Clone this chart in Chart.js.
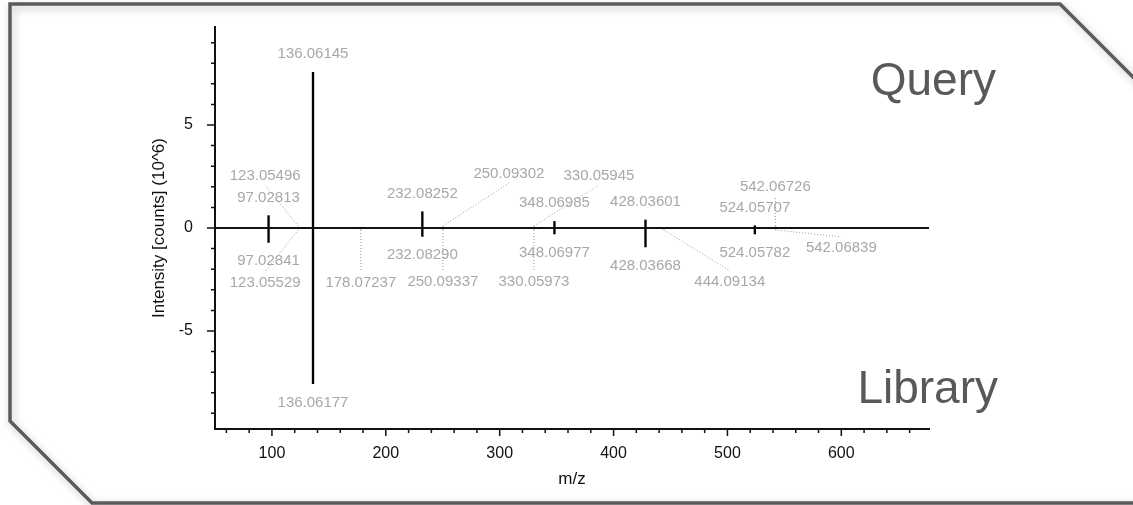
<!DOCTYPE html>
<html>
<head>
<meta charset="utf-8">
<style>
  html, body { margin: 0; padding: 0; background: #fff; }
  #wrap { position: relative; width: 1133px; height: 505px; }
</style>
<script src="https://cdn.jsdelivr.net/npm/chart.js@4/dist/chart.umd.min.js"></script>
</head>
<body>
<div id="wrap"><canvas id="spectrum"></canvas></div>
<script>
// peaks, intensity in counts x 10^6 (library mirrored below zero)
const queryMz = [97.02813, 123.05496, 136.06145, 232.08252, 250.09302, 330.05945, 348.06985, 428.03601, 524.05707, 542.06726];
const queryIntensity = [0.60, 0.03, 7.56, 0.79, 0.04, 0.04, 0.32, 0.39, 0.11, 0.04];

const libraryMz = [97.02841, 123.05529, 136.06177, 178.07237, 232.08290, 250.09337, 330.05973, 348.06977, 428.03668, 444.09134, 524.05782, 542.06839];
const libraryIntensity = [-0.70, -0.03, -7.56, -0.04, -0.41, -0.04, -0.04, -0.29, -0.92, -0.04, -0.29, -0.04];

const xTicks = [100, 200, 300, 400, 500, 600];
const yTicks = [-5, 0, 5];

// labels pushed away from their peak (pixels), drawn with a dotted leader
const labelShift = {
  '123.05496': [-33, -33],
  '250.09302': [66, -35],
  '330.05945': [65, -33],
  '542.06726': [0, -22],
  '123.05529': [-33, 35],
  '178.07237': [0, 35],
  '250.09337': [0, 34],
  '330.05973': [0, 34],
  '444.09134': [66, 34],
  '542.06839': [66, 0]
};

Chart.defaults.font.family = "'Liberation Sans', Arial, sans-serif";

const frame = {
  id: 'frame',
  beforeDraw(chart) {
    const ctx = chart.ctx;
    ctx.save();
    ctx.beginPath();
    ctx.moveTo(1150, 94);
    ctx.lineTo(1060, 4);
    ctx.lineTo(10, 4);
    ctx.lineTo(10, 421);
    ctx.lineTo(92, 503);
    ctx.lineTo(1150, 503);
    ctx.lineWidth = 3.5;
    ctx.strokeStyle = '#5b5b5b';
    ctx.shadowColor = 'rgba(0,0,0,0.25)';
    ctx.shadowBlur = 8;
    ctx.shadowOffsetX = 2;
    ctx.shadowOffsetY = 3;
    ctx.stroke();
    ctx.restore();
  }
};

const axisTicks = {
  id: 'axisTicks',
  afterDraw(chart) {
    const {ctx, chartArea: a, scales: {x, y}} = chart;
    ctx.save();
    ctx.strokeStyle = '#111';
    ctx.lineWidth = 1.5;
    ctx.beginPath();
    for (let v = 60; v <= 660; v += 20) {
      const px = x.getPixelForValue(v);
      const len = v % 100 === 0 ? 7 : 4;
      ctx.moveTo(px, a.bottom);
      ctx.lineTo(px, a.bottom + len);
    }
    for (let v = -9; v <= 9; v++) {
      const py = y.getPixelForValue(v);
      const len = v % 5 === 0 ? 8 : 4;
      ctx.moveTo(a.left - len, py);
      ctx.lineTo(a.left, py);
    }
    ctx.stroke();
    const z = y.getPixelForValue(0);
    ctx.lineWidth = 2;
    ctx.beginPath();
    ctx.moveTo(a.left, z);
    ctx.lineTo(a.right, z);
    ctx.stroke();

    ctx.fillStyle = '#595959';
    ctx.font = "46px 'Liberation Sans', Arial, sans-serif";
    ctx.textAlign = 'right';
    ctx.textBaseline = 'alphabetic';
    ctx.fillText('Query', 996, 95);
    ctx.fillText('Library', 998, 403);
    ctx.restore();
  }
};

const peakLabels = {
  id: 'peakLabels',
  afterDatasetsDraw(chart) {
    const {ctx, scales: {x, y}} = chart;
    const z = y.getPixelForValue(0);
    ctx.save();
    ctx.font = "15px 'Liberation Sans', Arial, sans-serif";
    ctx.fillStyle = '#a8a8a8';
    ctx.strokeStyle = '#9a9a9a';
    ctx.lineWidth = 1;
    ctx.textAlign = 'center';
    ctx.textBaseline = 'alphabetic';
    const put = (mzs, vals, up) => {
      mzs.forEach((mz, i) => {
        const text = mz.toFixed(5);
        const px = x.getPixelForValue(mz);
        const tip = y.getPixelForValue(vals[i]);
        let lx = px, ly = up ? tip - 19 : tip + 18;
        const s = labelShift[text];
        if (s) {
          lx += s[0];
          ly += s[1];
          ctx.setLineDash([1, 2]);
          ctx.beginPath();
          ctx.moveTo(px, up ? z - 2 : z + 2);
          ctx.lineTo(lx, up ? ly + 10 : ly - 10);
          ctx.stroke();
          ctx.setLineDash([]);
        }
        ctx.fillText(text, lx, ly + 5);
      });
    };
    put(queryMz, queryIntensity, true);
    put(libraryMz, libraryIntensity, false);
    ctx.restore();
  }
};

new Chart(document.getElementById('spectrum'), {
  type: 'bar',
  data: {
    datasets: [{
      label: 'Query',
      data: queryMz.map((mz, i) => ({x: mz, y: queryIntensity[i]})),
      backgroundColor: '#000',
      barThickness: 1.7,
      grouped: false
    }, {
      label: 'Library',
      data: libraryMz.map((mz, i) => ({x: mz, y: libraryIntensity[i]})),
      backgroundColor: '#000',
      barThickness: 1.7,
      grouped: false
    }]
  },
  options: {
    responsive: true,
    maintainAspectRatio: false,
    animation: false,
    layout: { padding: { left: 0, top: 27, right: 204, bottom: 0 } },
    plugins: { legend: { display: false }, tooltip: { enabled: false } },
    scales: {
      x: {
        type: 'linear',
        min: 50,
        max: 677,
        offset: false,
        grid: { display: false, drawTicks: false, offset: false },
        border: { display: true, color: '#111', width: 2 },
        afterBuildTicks: s => { s.ticks = xTicks.map(v => ({value: v})); },
        afterFit: s => { s.height = 76; s.paddingLeft = 0; s.paddingRight = 0; },
        ticks: { color: '#111', font: { size: 16 }, padding: 15, maxRotation: 0 },
        title: { display: true, text: 'm/z', color: '#111', font: { size: 17 }, padding: { top: 0, bottom: 15 } }
      },
      y: {
        type: 'linear',
        min: -9.76,
        max: 9.76,
        grid: { display: false, drawTicks: false },
        border: { display: true, color: '#111', width: 2 },
        afterBuildTicks: s => { s.ticks = yTicks.map(v => ({value: v})); },
        afterFit: s => { s.width = 215; s.paddingTop = 0; s.paddingBottom = 0; },
        ticks: { color: '#111', font: { size: 16 }, padding: 22 },
        title: { display: true, text: 'Intensity [counts] (10^6)', color: '#111', font: { size: 17 }, padding: { top: 149, bottom: 0 } }
      }
    }
  },
  plugins: [frame, axisTicks, peakLabels]
});
</script>
</body>
</html>
